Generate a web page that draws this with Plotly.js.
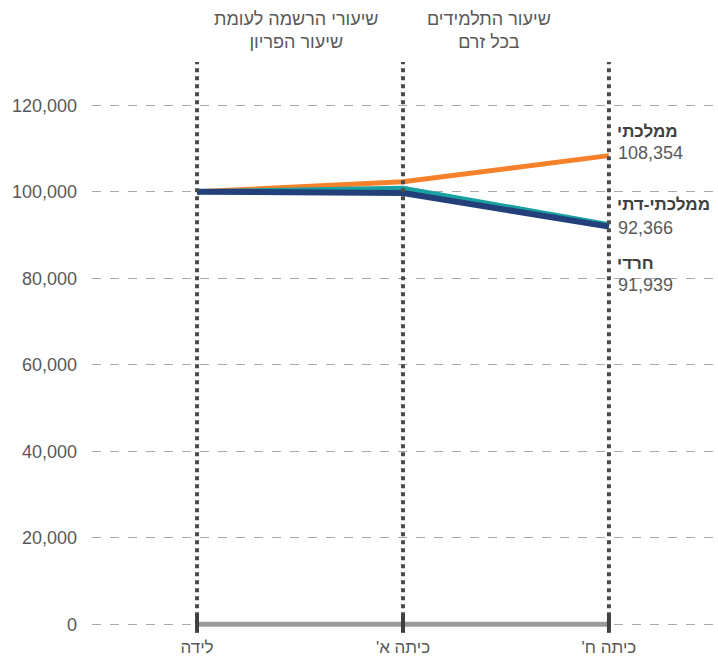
<!DOCTYPE html>
<html><head><meta charset="utf-8">
<script src="https://cdn.plot.ly/plotly-3.0.1.min.js"></script>
<style>body{margin:0}#chart{width:718px;height:661px}</style>
</head><body><div id="chart"></div>
<script>
const xCats = [0, 1, 2];
const xLabels = ["לידה", "כיתה א'\u200F", "כיתה ח'\u200F"];
const mamlachti = [100000, 102300, 108354];
const mamlachtiDati = [100000, 100800, 92366];
const haredi = [100000, 99700, 91939];
const baseline = [0, 0, 0];
const seriesNames = ["ממלכתי", "ממלכתי-דתי", "חרדי"];
const endLabels = ["108,354", "92,366", "91,939"];
const yTicks = [0, 20000, 40000, 60000, 80000, 100000, 120000];
const headers = ["שיעורי הרשמה לעומת<br>שיעור הפריון", "שיעור התלמידים<br>בכל זרם"];

const font = "Liberation Sans, Arial, sans-serif";
const textCol = "#595959";
const traces = [
  {x: xCats, y: baseline, mode: "lines", line: {color: "#9a9a9a", width: 5}, hoverinfo: "skip"},
  {x: xCats, y: mamlachti, mode: "lines", name: seriesNames[0], line: {color: "#F5822A", width: 5}},
  {x: xCats, y: mamlachtiDati, mode: "lines", name: seriesNames[1], line: {color: "#19A0A0", width: 5}},
  {x: xCats, y: haredi, mode: "lines", name: seriesNames[2], line: {color: "#23407A", width: 6}}
];

const shapes = [];
xCats.forEach(xc => {
  shapes.push({type: "line", xref: "x", yref: "y", x0: xc, x1: xc, y0: 0, y1: 130000,
    line: {color: "#4a4a4a", width: 4, dash: "4px,4px"}, layer: "above"});
  shapes.push({type: "line", xref: "x", yref: "y", x0: xc, x1: xc, y0: -2000, y1: 2300,
    line: {color: "#404040", width: 4}, layer: "above"});
});

const annotations = [
  {x: 0.485, y: 1.0, xref: "x", yref: "paper", yanchor: "bottom", yshift: 8, text: headers[0], showarrow: false,
   font: {family: font, size: 18, color: textCol}},
  {x: 1.42, y: 1.0, xref: "x", yref: "paper", yanchor: "bottom", yshift: 8, text: headers[1], showarrow: false,
   font: {family: font, size: 18, color: textCol}}
];
const nameY = [114000, 97000, 83400];
const valY = [108900, 91700, 78500];
for (let i = 0; i < 3; i++) {
  annotations.push({x: 2, y: nameY[i], xref: "x", yref: "y", xanchor: "left", xshift: 6, text: "<b>" + seriesNames[i] + "</b>",
    showarrow: false, font: {family: font, size: 17, color: "#404040"}});
  annotations.push({x: 2, y: valY[i], xref: "x", yref: "y", xanchor: "left", xshift: 7, text: endLabels[i],
    showarrow: false, font: {family: font, size: 18, color: textCol}});
}

const layout = {
  width: 718, height: 661,
  margin: {l: 92, r: 3, t: 62, b: 26},
  paper_bgcolor: "#ffffff", plot_bgcolor: "#ffffff",
  showlegend: false,
  font: {family: font, size: 18, color: textCol},
  xaxis: {range: [-0.51, 2.515], tickvals: xCats, ticktext: xLabels, showgrid: false, zeroline: false,
    showline: false, ticks: "", tickfont: {size: 17, color: textCol}, fixedrange: true},
  yaxis: {range: [-2500, 130000], tickvals: yTicks, tickformat: ",", showgrid: true, gridcolor: "#aaaaaa",
    griddash: "dash", gridwidth: 1, zeroline: false, showline: false, ticks: "", ticklabelstandoff: 14,
    tickfont: {size: 18, color: textCol}},
  shapes: shapes,
  annotations: annotations
};
Plotly.newPlot("chart", traces, layout, {displayModeBar: false, staticPlot: true});
</script></body></html>
